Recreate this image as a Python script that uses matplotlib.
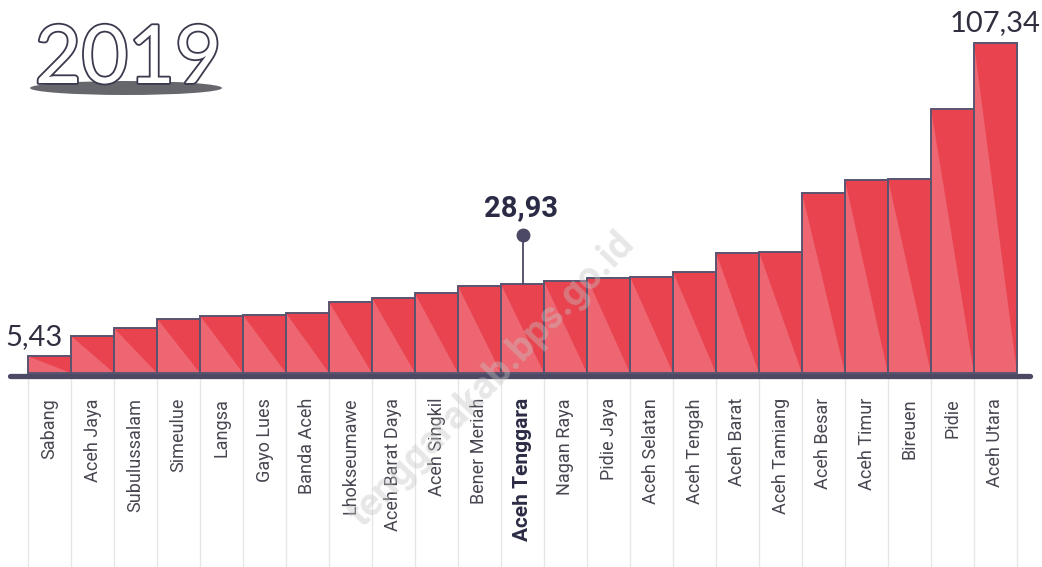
import numpy as np
import matplotlib.pyplot as plt
from matplotlib.patches import Polygon, Ellipse
import matplotlib.patheffects as pe

kabupaten = ['Sabang', 'Aceh Jaya', 'Subulussalam', 'Simeulue', 'Langsa', 'Gayo Lues',
             'Banda Aceh', 'Lhokseumawe', 'Aceh Barat Daya', 'Aceh Singkil', 'Bener Meriah',
             'Aceh Tenggara', 'Nagan Raya', 'Pidie Jaya', 'Aceh Selatan', 'Aceh Tengah',
             'Aceh Barat', 'Aceh Tamiang', 'Aceh Besar', 'Aceh Timur', 'Bireuen', 'Pidie',
             'Aceh Utara']
nilai = [5.43, 12.1, 14.6, 17.7, 18.7, 18.9, 19.5, 23.1, 24.4, 25.9, 28.3,
         28.93, 29.9, 31.0, 31.4, 33.0, 39.2, 39.5, 58.7, 62.8, 63.3, 86.1, 107.34]
sorot = 'Aceh Tenggara'
tahun = '2019'

MERAH_TUA = '#e8434f'
MERAH_MUDA = '#ee6671'
GARIS = '#5a5470'
TEKS = '#2f2f40'

W, H = 1042, 567
fig = plt.figure(figsize=(W / 100, H / 100), dpi=100)
ax = fig.add_axes([0, 0, 1, 1])
ax.axis('off')

# pixel -> data helpers (bar width 43 px, first bar starts at px 28, base at px 373)
K = 107.34 / 329.7
def dx(px):
    return -0.5 + (px - 28) / 43
def dy(py):
    return (373 - py) * K

ax.set_xlim(dx(0), dx(W))
ax.set_ylim(dy(H), dy(0))

x = np.arange(len(kabupaten))
ax.bar(x, nilai, width=1, color=MERAH_TUA, edgecolor='none', zorder=2)
for xi, v in zip(x, nilai):
    tri = Polygon([(xi - 0.5, 0), (xi - 0.5, v), (xi + 0.5, 0)], closed=True,
                  facecolor=MERAH_MUDA, edgecolor='none', zorder=3)
    ax.add_patch(tri)
ax.bar(x, nilai, width=1, fill=False, edgecolor=GARIS, linewidth=1.4, zorder=4)

# garis dasar
ax.plot([dx(10), dx(1030)], [dy(375.5), dy(375.5)], color='#4b4963', linewidth=3.8,
        solid_capstyle='round', zorder=5)

# garis pemisah label
for xb in np.arange(len(kabupaten) + 1) - 0.5:
    ax.plot([xb, xb], [dy(379), dy(H)], color='#e6e6e6', linewidth=1, zorder=1)

for xi, nama in zip(x, kabupaten):
    tebal = nama == sorot
    ax.text(xi, dy(398), nama, rotation=90, ha='center', va='top',
            fontsize=15 if tebal else 13, family='Roboto',
            color='#2b2b45' if tebal else '#474752',
            fontweight='bold' if tebal else 'normal', zorder=6)

# label nilai
ax.text(dx(63), nilai[0] + 6 * K, '5,43', ha='right', va='bottom', fontsize=21,
        family='Lato', color=TEKS, zorder=6)
ax.text(x[-1], nilai[-1] + 7 * K, '107,34', ha='center', va='bottom', fontsize=21,
        family='Lato', color=TEKS, zorder=6)

i_s = kabupaten.index(sorot)
ax.plot([i_s, i_s], [nilai[i_s], dy(235)], color='#4b4963', linewidth=1.3, zorder=5)
ax.plot(i_s, dy(235), 'o', color='#4b4963', markersize=9, zorder=6)
ax.text(i_s - 0.03, dy(222), '28,93', ha='center', va='bottom', fontsize=21,
        family='Roboto', fontweight='bold', color='#2b2b45', zorder=6)

# judul tahun dengan bayangan elips
cx, cy = dx(126), dy(88)
ell = Ellipse((cx, cy), width=192 / 43, height=14 * K, facecolor='#66666d',
              edgecolor='none', zorder=5)
ax.add_patch(ell)
ax.text(dx(128), dy(83), tahun, ha='center', va='baseline', fontsize=58,
        family='Lato', fontweight='normal', color='white', zorder=6,
        path_effects=[pe.withStroke(linewidth=2.6, foreground='#3a3a4e')])

# watermark
ax.text(dx(492), dy(380), 'tenggarakab.bps.go.id', rotation=46, ha='center',
        va='center', fontsize=28, family='Roboto', fontweight='bold',
        color='#c4c4c4', alpha=0.4, zorder=7)

fig.savefig('out.png', dpi=100)
